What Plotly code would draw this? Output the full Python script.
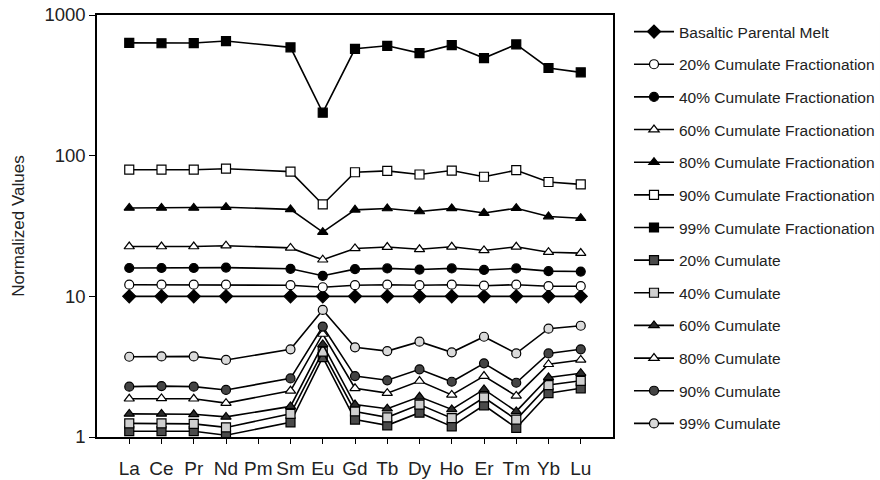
import plotly.graph_objects as go

elements = ["La", "Ce", "Pr", "Nd", "Pm", "Sm", "Eu", "Gd", "Tb", "Dy", "Ho", "Er", "Tm", "Yb", "Lu"]

basalt = [10, 10, 10, 10, None, 10, 10, 10, 10, 10, 10, 10, 10, 10, 10]
cf20 = [12.1, 12.1, 12.1, 12.1, None, 12.0, 11.6, 12.0, 12.1, 12.0, 12.1, 11.9, 12.1, 11.8, 11.8]
cf40 = [15.9, 15.9, 15.9, 16.0, None, 15.7, 14.0, 15.6, 15.8, 15.5, 15.8, 15.4, 15.8, 15.1, 15.0]
cf60 = [22.6, 22.6, 22.6, 22.9, None, 22.1, 18.2, 21.9, 22.4, 21.6, 22.5, 21.2, 22.5, 20.6, 20.3]
cf80 = [42.5, 42.5, 42.5, 43.0, None, 41.5, 28.6, 41.2, 42.1, 40.1, 42.2, 39.1, 42.3, 36.9, 35.9]
cf90 = [79.5, 79.5, 79.5, 80.8, None, 77.0, 45.0, 76.2, 78.0, 73.5, 78.4, 70.8, 78.8, 65.0, 62.5]
cf99 = [634, 630, 632, 653, None, 589, 202, 575, 604, 536, 611, 494, 618, 420, 391]

cum20 = [1.10, 1.10, 1.10, 1.03, None, 1.27, 3.70, 1.33, 1.21, 1.49, 1.19, 1.68, 1.16, 2.05, 2.22]
cum40 = [1.25, 1.25, 1.24, 1.17, None, 1.46, 4.05, 1.52, 1.38, 1.70, 1.36, 1.91, 1.33, 2.34, 2.51]
cum60 = [1.46, 1.46, 1.45, 1.39, None, 1.65, 4.55, 1.70, 1.59, 1.93, 1.57, 2.18, 1.52, 2.65, 2.84]
cum80 = [1.87, 1.88, 1.87, 1.74, None, 2.13, 5.40, 2.22, 2.05, 2.50, 1.99, 2.71, 1.96, 3.29, 3.53]
cum90 = [2.28, 2.30, 2.28, 2.16, None, 2.61, 6.10, 2.71, 2.53, 3.03, 2.47, 3.34, 2.43, 3.93, 4.20]
cum99 = [3.72, 3.74, 3.74, 3.53, None, 4.20, 8.00, 4.34, 4.08, 4.76, 4.00, 5.16, 3.93, 5.89, 6.18]

series = [
    ("Basaltic Parental Melt", basalt, "diamond", "black", 10),
    ("20% Cumulate Fractionation", cf20, "circle", "white", 9),
    ("40% Cumulate Fractionation", cf40, "circle", "black", 9),
    ("60% Cumulate Fractionation", cf60, "triangle-up", "white", 9),
    ("80% Cumulate Fractionation", cf80, "triangle-up", "black", 9),
    ("90% Cumulate Fractionation", cf90, "square", "white", 9),
    ("99% Cumulate Fractionation", cf99, "square", "black", 9),
    ("20% Cumulate", cum20, "square", "#4a4a4a", 9),
    ("40% Cumulate", cum40, "square", "#d0d0d0", 9),
    ("60% Cumulate", cum60, "triangle-up", "#2a2a2a", 9),
    ("80% Cumulate", cum80, "triangle-up", "white", 9),
    ("90% Cumulate", cum90, "circle", "#444444", 9),
    ("99% Cumulate", cum99, "circle", "#dadada", 9),
]

fig = go.Figure()
for name, vals, sym, fill, size in series:
    fig.add_trace(go.Scatter(
        x=elements, y=vals, name=name, legendgroup=name,
        mode="lines+markers", connectgaps=True,
        line=dict(color="black", width=1.6),
        marker=dict(symbol=sym, color=fill, size=size,
                    line=dict(color="black", width=1.2)),
    ))

font_family = "Liberation Sans, Arial, sans-serif"
fig.update_layout(
    width=880, height=480,
    margin=dict(l=97, r=267, t=15, b=43, autoexpand=False),
    paper_bgcolor="white", plot_bgcolor="white",
    font=dict(family=font_family, color="#222"),
    showlegend=True,
    legend=dict(x=1.031, y=1.0, xanchor="left", yanchor="top",
                font=dict(size=15.5, family=font_family, color="#222"),
                tracegroupgap=9.5, itemwidth=40,
                bgcolor="rgba(0,0,0,0)"),
    xaxis=dict(type="category", categoryorder="array", categoryarray=elements,
               range=[-1, 15], showline=True, linecolor="black", linewidth=1.5,
               mirror=True, ticks="outside", ticklen=5, tickcolor="black",
               tickfont=dict(size=19, family=font_family, color="#222"),
               ticklabelstandoff=8, showgrid=False, zeroline=False),
    yaxis=dict(type="log", range=[0, 3], showline=True, linecolor="black",
               linewidth=1.5, mirror=True, ticks="outside", ticklen=6,
               tickcolor="black", tickvals=[1, 10, 100, 1000],
               ticktext=["1", "10", "100", "1000"],
               tickfont=dict(size=18.5, family=font_family, color="#222"),
               showgrid=False, zeroline=False,
               title=dict(text="Normalized Values", standoff=15,
                          font=dict(size=17, family=font_family, color="#222"))),
)

fig.write_html("out.html", config={"displayModeBar": False},
               post_script="document.body.style.margin='0';")
